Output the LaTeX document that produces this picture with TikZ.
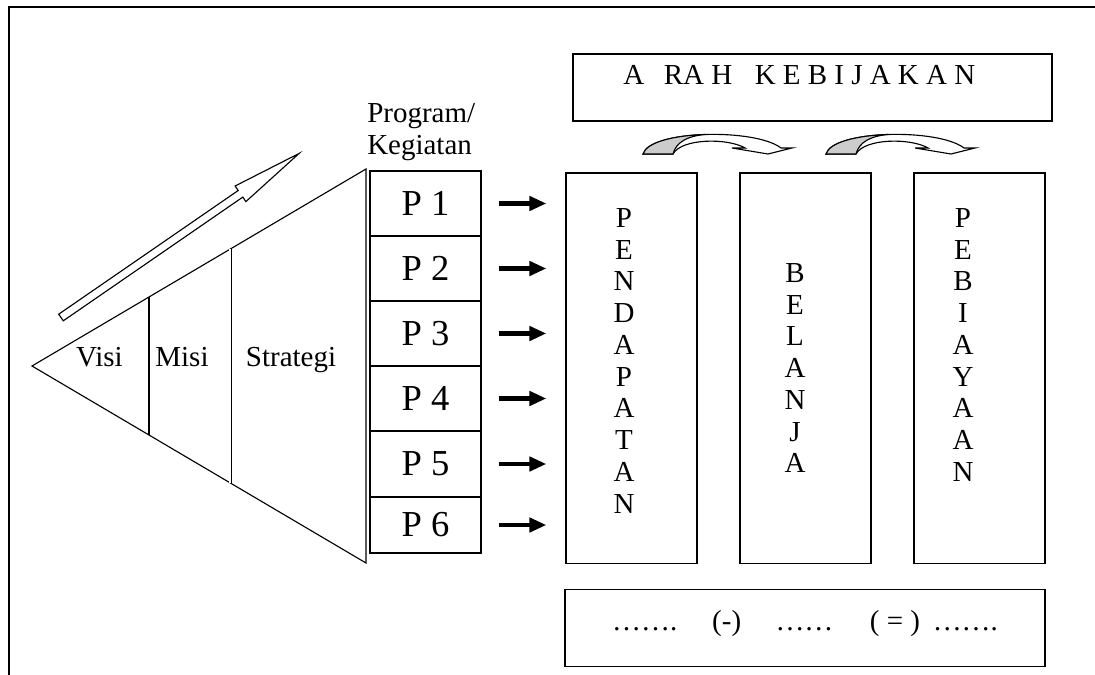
\documentclass[tikz,border=0pt]{standalone}
\usepackage{fontspec}
\setmainfont{Liberation Serif}
\usetikzlibrary{arrows.meta,calc,positioning}

\begin{document}
\begin{tikzpicture}[x=0.025cm,y=-0.025cm,
    box/.style={draw,line width=0.9pt,inner sep=0},
    prog/.style={box,minimum width=2.775cm,font=\fontsize{26pt}{30pt}\selectfont},
    word/.style={inner sep=0,font=\fontsize{20.6pt}{22.6pt}\selectfont},
    letters/.style={word,align=center,anchor=north},
    fatarrow/.style={line width=3.5pt,-{Triangle[length=12pt,width=10pt]},shorten <=0.425cm,shorten >=0.475cm},
    tri_line/.style={line width=0.8pt}]
    \definecolor{shade_gray}{rgb}{0.8,0.8,0.8}
    \useasboundingbox (0,0) rectangle (1095,675);
    \draw[line width=1.6pt] (9,675) -- (9,7) -- (1095,7);

    % pyramid
    \coordinate (apex) at (32,366);
    \coordinate (tri_top) at (366,169);
    \coordinate (tri_bot) at (366,563);
    \draw[tri_line] (apex) -- (tri_top) -- (tri_bot) -- cycle;
    \draw[line width=1.6pt] ($(apex)!0.35!(tri_top)$) -- ($(apex)!0.35!(tri_bot)$);
    \draw[line width=0.6pt,double,double distance=0.9pt] ($(apex)!0.593!(tri_top)$) -- ($(apex)!0.593!(tri_bot)$);
    \node[word,anchor=base] (visi) at (99.5,366) {Visi};
    \node[word,anchor=base] (misi) at (182,366) {Misi};
    \node[word,anchor=base] (strategi) at (291,366) {Strategi};
    \draw[tri_line] (58.7,314.2) -- (238.2,190.5) -- (235.1,186.0) -- (299,153.5) -- (245.9,201.6) -- (242.8,197.1) -- (63.3,320.8) -- cycle;

    % programs
    \node[word,align=left,anchor=north west] (prog_label) at (367,103) {Program/\\Kegiatan};
    \foreach \i/\ya/\yb in {1/171/236,2/236/301,3/301/366,4/366/431,5/431/497,6/497/553}
        \node[prog,minimum height={(\yb-\ya)*0.025cm}] (p_\i) at (425.5,{(\ya+\yb)/2}) {P \i};

    % budget
    \node[box,minimum width=11.975cm,minimum height=1.675cm] (box_arah) at (812.5,87.5) {};
    \node[word,anchor=base west] (arah_text) at (623,85) {A\hspace{14pt}RA H\hspace{16pt}K E B I J A K A N};
    \node[box,minimum width=3.275cm,minimum height=9.765cm] (box_pend) at (631.5,368.3) {};
    \node[box,minimum width=3.275cm,minimum height=9.765cm] (box_bel) at (805.5,368.3) {};
    \node[box,minimum width=3.275cm,minimum height=9.765cm] (box_pemb) at (979.5,368.3) {};
    \node[letters] (pend_text) at (624,208) {P\\E\\N\\D\\A\\P\\A\\T\\A\\N};
    \node[letters] (bel_text) at (795,263) {B\\E\\L\\A\\N\\J\\A};
    \node[letters] (pemb_text) at (963,208) {P\\E\\B\\I\\A\\Y\\A\\A\\N};
    \node[box,minimum width=12cm,minimum height=1.925cm] (box_sum) at (805,628) {};
    \node[word,anchor=base] (sum_text) at (805,630) {…….\hspace{24.9pt}(-)\hspace{24.4pt}……\hspace{26pt}( = )\hspace{9pt}…….};

    \foreach \i in {1,...,6}
        \draw[fatarrow] (p_\i.east) -- (p_\i.east -| box_pend.west);

    \foreach \dx in {0,183}{
        \begin{scope}[shift={(\dx,0)}]
            \filldraw[fill=white,line width=0.8pt] (643,154) .. controls (650,130) and (755,128) .. (781,148) -- (792,148) -- (768,154) -- (732,148) -- (745,148) .. controls (728,138) and (682,138) .. (673,154) -- cycle;
            \filldraw[fill=shade_gray,line width=0.8pt] (643,154) .. controls (646.5,142) and (674.5,135.5) .. (704.9,134.5) .. controls (688,136) and (676,142) .. (673,154) -- cycle;
        \end{scope}
    }
\end{tikzpicture}
\end{document}
